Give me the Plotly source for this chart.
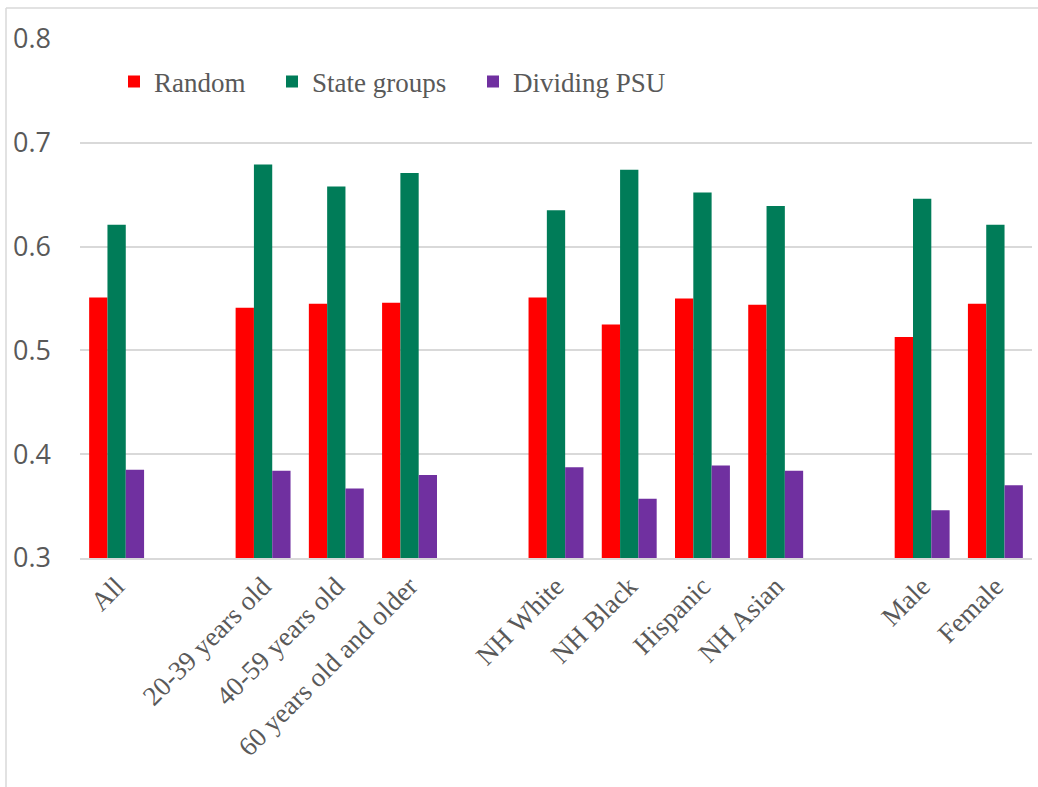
import plotly.graph_objects as go

categories = ["All", " ", "20-39 years old", "40-59 years old", "60 years old and older", "  ",
              "NH White", "NH Black", "Hispanic", "NH Asian", "   ", "Male", "Female"]
random_vals = [0.551, None, 0.541, 0.545, 0.546, None, 0.551, 0.525, 0.550, 0.544, None, 0.513, 0.545]
state_vals = [0.621, None, 0.679, 0.658, 0.671, None, 0.635, 0.674, 0.652, 0.639, None, 0.646, 0.621]
psu_vals = [0.385, None, 0.384, 0.367, 0.380, None, 0.3875, 0.357, 0.389, 0.384, None, 0.346, 0.370]
series_names = ["Random", "State groups", "Dividing PSU"]
colors = ["#FF0000", "#007C58", "#7030A0"]
y_ticks = [0.3, 0.4, 0.5, 0.6, 0.7, 0.8]

W, H = 1038, 787
L, R, T, B = 80, 6, 39, 229
pw, ph = W - L - R, H - T - B

def px_to_paper_x(px):
    return (px - L) / pw

def px_to_paper_y(py):
    return (H - B - py) / ph

legend_ids = ["legend", "legend2", "legend3"]
legend_px = [114, 272, 473]

fig = go.Figure()
for name, vals, col, lid in zip(series_names, [random_vals, state_vals, psu_vals], colors, legend_ids):
    fig.add_trace(go.Bar(x=categories, y=vals, name=name, legend=lid,
                         marker=dict(color=col, line=dict(width=0))))

grid = "#D9D9D9"
legend_font = dict(family="Liberation Serif", size=27, color="#595959")
legends = {}
for lid, lx in zip(legend_ids, legend_px):
    legends[lid] = dict(orientation="h", x=px_to_paper_x(lx), xanchor="left",
                        y=px_to_paper_y(82), yanchor="middle", font=legend_font,
                        bgcolor="rgba(0,0,0,0)", borderwidth=0)

fig.update_layout(
    width=W, height=H,
    margin=dict(l=L, r=R, t=T, b=B),
    paper_bgcolor="white", plot_bgcolor="white",
    barmode="group", bargap=0.25, bargroupgap=0,
    showlegend=True,
    xaxis=dict(type="category", categoryorder="array", categoryarray=categories,
               tickangle=-45, showgrid=False, showline=True, linecolor=grid, linewidth=1.5,
               ticks="", tickfont=dict(family="Liberation Serif", size=27, color="#595959")),
    yaxis=dict(range=[0.3, 0.8], tickvals=y_ticks, tickformat=".1f", showgrid=True,
               gridcolor=grid, gridwidth=1.5, zeroline=False, showline=False, ticks="",
               ticklabelstandoff=28,
               tickfont=dict(family="Open Sans", size=27, color="#595959")),
    shapes=[
        dict(type="line", xref="paper", yref="paper", x0=px_to_paper_x(6), x1=px_to_paper_x(1060),
             y0=px_to_paper_y(8), y1=px_to_paper_y(8), line=dict(color=grid, width=1.5)),
        dict(type="line", xref="paper", yref="paper", x0=px_to_paper_x(6), x1=px_to_paper_x(6),
             y0=px_to_paper_y(8), y1=px_to_paper_y(800), line=dict(color=grid, width=1.5)),
    ],
    **legends,
)

fig.write_html("out.html")
